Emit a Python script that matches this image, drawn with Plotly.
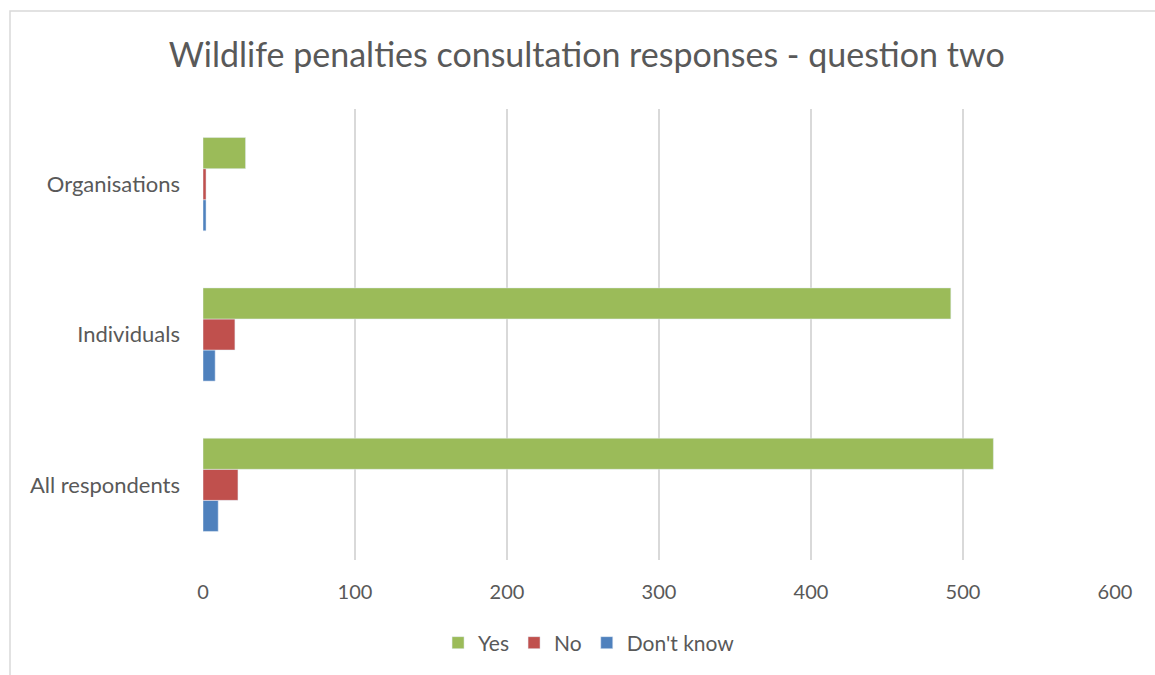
import plotly.graph_objects as go

categories = ["All respondents", "Individuals", "Organisations"]
yes_vals = [520, 492, 28]
no_vals = [23, 21, 2]
dont_know_vals = [10, 8, 2]
x_ticks = [0, 100, 200, 300, 400, 500, 600]

FONT = "Lato"
GREY = "#595959"

fig = go.Figure()
fig.add_trace(go.Bar(y=categories, x=dont_know_vals, name="Don't know", orientation="h",
                     marker=dict(color="#4F81BD"), legendrank=3))
fig.add_trace(go.Bar(y=categories, x=no_vals, name="No", orientation="h",
                     marker=dict(color="#C0504D"), legendrank=2))
fig.add_trace(go.Bar(y=categories, x=yes_vals, name="Yes", orientation="h",
                     marker=dict(color="#9BBB59"), legendrank=1))

fig.update_layout(
    width=1155, height=675,
    paper_bgcolor="white", plot_bgcolor="white",
    margin=dict(l=203, r=40, t=109, b=115),
    barmode="group", bargap=0.38, bargroupgap=0,
    font=dict(family=FONT, color=GREY, size=20),
    title=dict(text="Wildlife penalties consultation responses - question two",
               x=0.508, xanchor="center", xref="container",
               y=1 - 55 / 675, yanchor="middle", yref="container",
               font=dict(family=FONT, size=34, color=GREY)),
    xaxis=dict(range=[0, 600], tickvals=x_ticks, showgrid=True, gridcolor="#D9D9D9",
               gridwidth=2, zeroline=False, showline=False, ticks="",
               tickfont=dict(size=20, color=GREY), ticklabelstandoff=18),
    yaxis=dict(categoryorder="array", categoryarray=categories, showgrid=False,
               zeroline=False, showline=False, ticks="",
               tickfont=dict(size=22, color=GREY), ticklabelstandoff=22),
    legend=dict(orientation="h", x=0.51, xanchor="center", xref="container",
                y=1 - 643 / 675, yanchor="middle", yref="container",
                font=dict(size=21, color=GREY), itemwidth=30,
                traceorder="normal"),
    shapes=[dict(type="rect", xref="paper", yref="paper",
                 x0=(10 - 203) / (1155 - 203 - 40), x1=(1170 - 203) / (1155 - 203 - 40),
                 y0=(675 - 115 - 690) / (675 - 109 - 115), y1=(675 - 115 - 11) / (675 - 109 - 115),
                 line=dict(color="#D9D9D9", width=1.5), layer="below")],
)

fig.write_html("out.html")
